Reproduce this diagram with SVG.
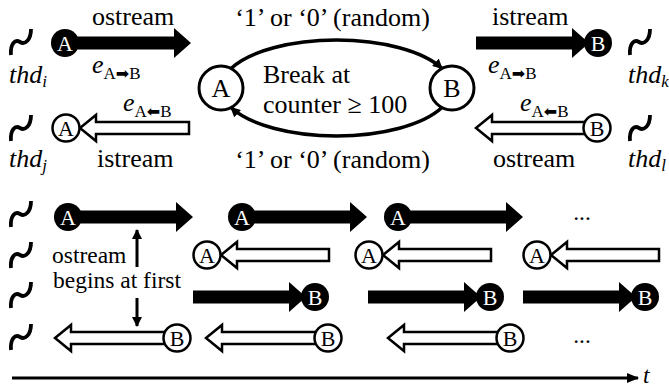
<svg xmlns="http://www.w3.org/2000/svg" width="669" height="387" viewBox="0 0 669 387">
<style>
text{font-family:'Liberation Serif','Times New Roman',serif;fill:#000}
.t26{font-size:26px}
.t24{font-size:23.5px}
.it{font-style:italic}
.sub{font-size:17px;font-style:normal}
.ar{font-family:'DejaVu Sans','Noto Sans CJK SC',sans-serif;font-size:16px;font-style:normal}
.fill{fill:#000;stroke:none}
.open{fill:#fff;stroke:#000;stroke-width:2.5;stroke-linejoin:miter}
.cf{fill:#000}
.co{fill:#fff;stroke:#000;stroke-width:2.5}
.cbig{fill:#fff;stroke:#000;stroke-width:3}
.lw{fill:#fff;font-size:22px;text-anchor:middle}
.lb{font-size:22px;text-anchor:middle}
.tl{fill:none;stroke:#000;stroke-width:3.8}
.arc{fill:none;stroke:#000;stroke-width:3.5}
</style>
<defs>
<path id="tilde" d="M -10,13 C -11,2 -6,-3 -1,0 C 4,3 10,-2 10,-13" class="tl"/>
<marker id="ah" viewBox="0 0 10 10" refX="9" refY="5" markerWidth="10" markerHeight="10" markerUnits="userSpaceOnUse" orient="auto">
<path d="M0,0 L10,5 L0,10 z" fill="#000"/>
</marker>
<marker id="axh" viewBox="0 0 12 10" refX="11" refY="5" markerWidth="12" markerHeight="10" markerUnits="userSpaceOnUse" orient="auto">
<path d="M0,0 L12,5 L0,10 z" fill="#000"/>
</marker>
<marker id="sh" viewBox="0 0 10 10" refX="9" refY="5" markerWidth="10" markerHeight="10" markerUnits="userSpaceOnUse" orient="auto">
<path d="M0,0 L10,5 L0,10 z" fill="#000"/>
</marker>
</defs>

<g id="threads">
<use href="#tilde" x="21" y="42"/>
<use href="#tilde" x="21" y="128"/>
<use href="#tilde" x="640" y="42"/>
<use href="#tilde" x="640" y="128"/>
<use href="#tilde" x="21" y="214"/>
<use href="#tilde" x="21" y="255"/>
<use href="#tilde" x="21" y="295"/>
<use href="#tilde" x="21" y="337"/>
<text class="t26 it" x="9" y="83">thd<tspan font-size="17" dy="4">i</tspan></text>
<text class="t26 it" x="9" y="167">thd<tspan font-size="17" dy="4">j</tspan></text>
<text class="t26 it" x="628" y="83">thd<tspan font-size="17" dy="4">k</tspan></text>
<text class="t26 it" x="628" y="167">thd<tspan font-size="17" dy="4">l</tspan></text>
</g>

<g id="connectors">
<path class="fill" d="M65,36.5 H174 V28 L191,43 L174,58 V49.5 H65 Z"/>
<path class="open" d="M80,128 L96,115 V122 H189 V134 H96 V141 Z"/>
<path class="fill" d="M476,36.5 H572 V28 L589,43 L572,58 V49.5 H476 Z"/>
<path class="open" d="M476,128 L492,115 V122 H597 V134 H492 V141 Z"/>
<path class="arc" d="M231.04,68.43 A115.5,48 0 0 1 441.96,68.43" marker-end="url(#ah)"/>
<path class="arc" d="M441.96,107.57 A115.5,48 0 0 1 231.04,107.57" marker-end="url(#ah)"/>
<path class="fill" d="M68,210.5 H176 V202 L193,217 L176,232 V223.5 H68 Z"/>
<path class="fill" d="M242,210.5 H350 V202 L367,217 L350,232 V223.5 H242 Z"/>
<path class="fill" d="M398,210.5 H506 V202 L523,217 L506,232 V223.5 H398 Z"/>
<path class="open" d="M221,255 L237,242 V249 H329 V261 H237 V268 Z"/>
<path class="open" d="M383,255 L399,242 V249 H491 V261 H399 V268 Z"/>
<path class="open" d="M551,255 L567,242 V249 H659 V261 H567 V268 Z"/>
<path class="fill" d="M193,290.5 H289 V282 L306,297 L289,312 V303.5 H193 Z"/>
<path class="fill" d="M368,290.5 H464 V282 L481,297 L464,312 V303.5 H368 Z"/>
<path class="fill" d="M523,290.5 H619 V282 L636,297 L619,312 V303.5 H523 Z"/>
<path class="open" d="M55,338 L71,325 V332 H177 V344 H71 V351 Z"/>
<path class="open" d="M206,338 L222,325 V332 H328 V344 H222 V351 Z"/>
<path class="open" d="M388,338 L404,325 V332 H510 V344 H404 V351 Z"/>
<line x1="137" y1="267" x2="137" y2="230" stroke="#000" stroke-width="3" marker-end="url(#sh)"/>
<line x1="137" y1="298" x2="137" y2="326" stroke="#000" stroke-width="3" marker-end="url(#sh)"/>
<line x1="12" y1="378" x2="638" y2="378" stroke="#000" stroke-width="3" marker-end="url(#axh)"/>
</g>

<g id="labels">
<text class="t26" x="92" y="25">ostream</text>
<text class="t26" x="492" y="25">istream</text>
<text class="t26" x="97" y="167">istream</text>
<text class="t26" x="493" y="167">ostream</text>
<text class="t26" x="332.5" y="26" text-anchor="middle">‘1’ or ‘0’ (random)</text>
<text class="t26" x="332.5" y="168" text-anchor="middle">‘1’ or ‘0’ (random)</text>
<text class="t26 it" x="92" y="73">e<tspan class="sub" dy="6">A</tspan><tspan class="ar">➡</tspan><tspan class="sub">B</tspan></text>
<text class="t26 it" x="488" y="73">e<tspan class="sub" dy="6">A</tspan><tspan class="ar">➡</tspan><tspan class="sub">B</tspan></text>
<text class="t26 it" x="123" y="111">e<tspan class="sub" dy="6">A</tspan><tspan class="ar">⬅</tspan><tspan class="sub">B</tspan></text>
<text class="t26 it" x="520" y="111">e<tspan class="sub" dy="6">A</tspan><tspan class="ar">⬅</tspan><tspan class="sub">B</tspan></text>
<text class="t24" x="52" y="263">ostream</text>
<text class="t24" x="53" y="288">begins at first</text>
<text class="t24" x="582" y="220" text-anchor="middle">...</text>
<text class="t24" x="582" y="343" text-anchor="middle">...</text>
<text class="t24 it" x="643" y="383">t</text>
</g>

<g id="loop-A"><circle class="cbig" cx="221" cy="88" r="22"/><text class="t26" x="221" y="97" text-anchor="middle">A</text></g>
<g id="loop-B"><circle class="cbig" cx="452" cy="88" r="22"/><text class="t26" x="452" y="97" text-anchor="middle">B</text></g>
<g id="loop-text">
<text class="t26" x="263" y="83">Break at</text>
<text class="t26" x="263" y="113">counter ≥ 100</text>
</g>

<g id="top-A-out"><circle class="cf" cx="65" cy="43" r="14"/><text class="lw" x="65" y="50.5">A</text></g>
<g id="top-A-in"><circle class="co" cx="66" cy="128" r="13.5"/><text class="lb" x="66" y="135.5">A</text></g>
<g id="top-B-in"><circle class="cf" cx="598" cy="43" r="14"/><text class="lw" x="598" y="50.5">B</text></g>
<g id="top-B-out"><circle class="co" cx="597" cy="128" r="13.5"/><text class="lb" x="597" y="135.5">B</text></g>

<g id="r1-A1"><circle class="cf" cx="68" cy="217" r="14"/><text class="lw" x="68" y="224.5">A</text></g>
<g id="r1-A2"><circle class="cf" cx="242" cy="217" r="14"/><text class="lw" x="242" y="224.5">A</text></g>
<g id="r1-A3"><circle class="cf" cx="398" cy="217" r="14"/><text class="lw" x="398" y="224.5">A</text></g>
<g id="r2-A1"><circle class="co" cx="207" cy="255" r="13.5"/><text class="lb" x="207" y="262.5">A</text></g>
<g id="r2-A2"><circle class="co" cx="369" cy="255" r="13.5"/><text class="lb" x="369" y="262.5">A</text></g>
<g id="r2-A3"><circle class="co" cx="537" cy="255" r="13.5"/><text class="lb" x="537" y="262.5">A</text></g>
<g id="r3-B1"><circle class="cf" cx="315" cy="297" r="14"/><text class="lw" x="315" y="304.5">B</text></g>
<g id="r3-B2"><circle class="cf" cx="490" cy="297" r="14"/><text class="lw" x="490" y="304.5">B</text></g>
<g id="r3-B3"><circle class="cf" cx="645" cy="297" r="14"/><text class="lw" x="645" y="304.5">B</text></g>
<g id="r4-B1"><circle class="co" cx="177" cy="338" r="13.5"/><text class="lb" x="177" y="345.5">B</text></g>
<g id="r4-B2"><circle class="co" cx="328" cy="338" r="13.5"/><text class="lb" x="328" y="345.5">B</text></g>
<g id="r4-B3"><circle class="co" cx="510" cy="338" r="13.5"/><text class="lb" x="510" y="345.5">B</text></g>
</svg>
